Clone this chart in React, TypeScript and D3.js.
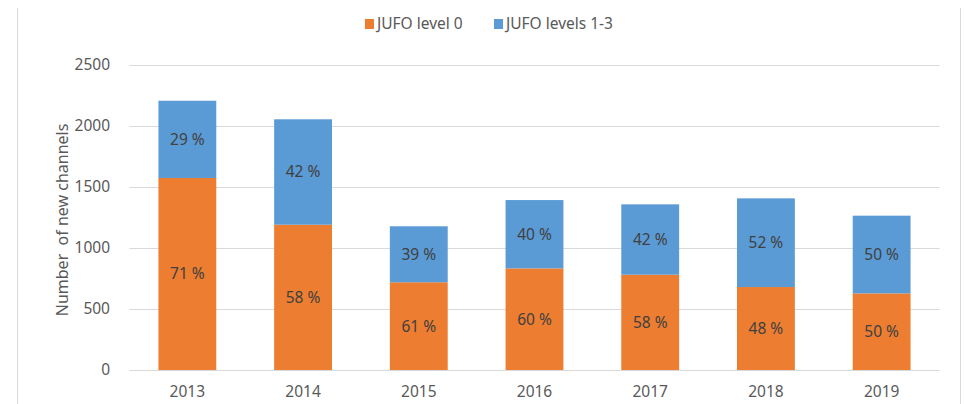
import React from 'react';
import * as d3 from 'd3';

// values
const years = ['2013', '2014', '2015', '2016', '2017', '2018', '2019'];
const level0 = [1574, 1191, 719, 833, 781, 680, 628];
const level13 = [633, 864, 459, 560, 577, 727, 637];
const level0Labels = ['71 %', '58 %', '61 %', '60 %', '58 %', '48 %', '50 %'];
const level13Labels = ['29 %', '42 %', '39 %', '40 %', '42 %', '52 %', '50 %'];
const yTicks = [0, 500, 1000, 1500, 2000, 2500];
const seriesNames = ['JUFO level 0', 'JUFO levels 1-3'];

const W = 971;
const H = 404;
const ORANGE = '#ed7d31';
const BLUE = '#5b9bd5';
const FONT = '"Noto Sans", sans-serif';

export default function App() {
  const x = d3.scaleBand<string>()
    .domain(years)
    .range([129.5, 939.5])
    .paddingInner(0.5)
    .paddingOuter(0.25);
  const y = d3.scaleLinear().domain([0, 2500]).range([370, 65]);

  const rows = years.map((yr, i) => ({ year: yr, l0: level0[i], l13: level13[i] }));
  const stack = d3.stack<any>().keys(['l0', 'l13']);
  const series = stack(rows);
  const colors = [ORANGE, BLUE];
  const labels = [level0Labels, level13Labels];

  return (
    <svg width={W} height={H} style={{ position: 'absolute', left: 0, top: 0 }} fontFamily={FONT}>
      <rect width={W} height={H} fill="#fff" />
      {/* frame edges */}
      <line x1={17.5} x2={17.5} y1={8} y2={H} stroke="#d9d9d9" />
      <line x1={960.5} x2={960.5} y1={8} y2={H} stroke="#d9d9d9" />

      {/* grid + y ticks */}
      {yTicks.map((t) => (
        <g key={t}>
          <line x1={129.5} x2={939.5} y1={Math.round(y(t)) + 0.5} y2={Math.round(y(t)) + 0.5}
            stroke="#d9d9d9" strokeWidth={1} />
          <text x={110} y={y(t)} dy="0.35em" textAnchor="end" fontSize={15.5} fill="#595959">{t}</text>
        </g>
      ))}

      {/* bars */}
      {series.map((s, si) => (
        <g key={s.key}>
          {s.map((d, i) => (
            <g key={i}>
              <rect x={x(years[i])} y={y(d[1])} width={x.bandwidth()} height={y(d[0]) - y(d[1])}
                fill={colors[si]} />
              <text x={(x(years[i]) as number) + x.bandwidth() / 2} y={(y(d[0]) + y(d[1])) / 2}
                dy="0.35em" textAnchor="middle" fontSize={15.5} fill="#404040">{labels[si][i]}</text>
            </g>
          ))}
        </g>
      ))}

      {/* x labels */}
      {years.map((yr) => (
        <text key={yr} x={(x(yr) as number) + x.bandwidth() / 2} y={392} dy="0.35em"
          textAnchor="middle" fontSize={15.5} fill="#595959">{yr}</text>
      ))}

      {/* y title */}
      <text transform={`translate(62,${y(1230)}) rotate(-90)`} textAnchor="middle" dy="0.35em"
        fontSize={16} fill="#595959" style={{ whiteSpace: 'pre' }}>{'Number  of new channels'}</text>

      {/* legend */}
      <g>
        <rect x={365} y={19} width={9} height={10} fill={ORANGE} />
        <text x={377} y={24} dy="0.35em" fontSize={15.5} fill="#595959">{seriesNames[0]}</text>
        <rect x={494} y={19} width={9} height={10} fill={BLUE} />
        <text x={506} y={24} dy="0.35em" fontSize={15.5} fill="#595959">{seriesNames[1]}</text>
      </g>
    </svg>
  );
}
